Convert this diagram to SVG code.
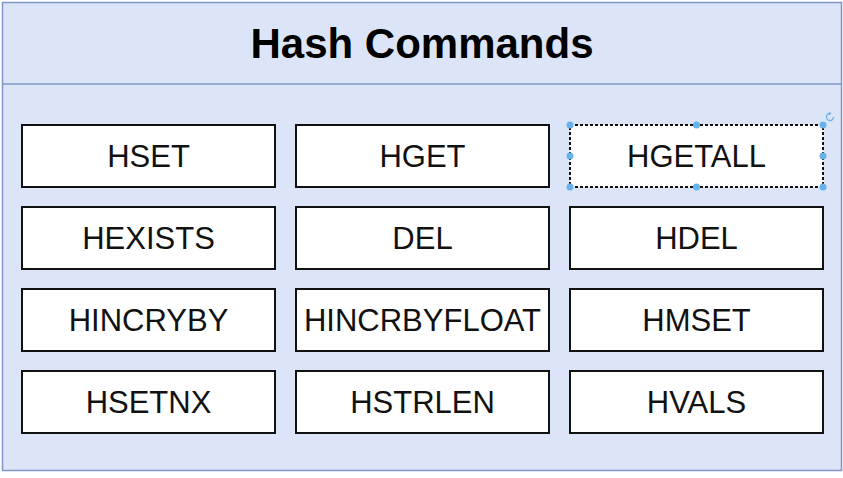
<svg xmlns="http://www.w3.org/2000/svg" width="843" height="478" viewBox="0 0 843 478">
  <style>
    .panel { fill: #dce5f7; stroke: #7f96c6; stroke-width: 1.5; }
    .cmd rect { fill: #ffffff; stroke: #111111; stroke-width: 2; }
    .cmd text { font-family: "Liberation Sans", Arial, sans-serif; font-size: 31px; fill: #111111; text-anchor: middle; }
    .title { font-family: "Liberation Sans", Arial, sans-serif; font-size: 42px; font-weight: bold; fill: #000000; text-anchor: middle; }
    .handle { fill: #66b2ea; }
  </style>
  <rect width="843" height="478" fill="#ffffff"/>

  <!-- container with header strip -->
  <g id="container">
    <rect class="panel" x="2.5" y="2.5" width="839" height="468"/>
    <line x1="2.5" y1="84" x2="841.5" y2="84" stroke="#7f96c6" stroke-width="1.5"/>
    <text class="title" x="422" y="58">Hash Commands</text>
  </g>

  <!-- row 1 -->
  <g id="hset" class="cmd"><rect x="22" y="125" width="253" height="62"/><text x="148.5" y="167">HSET</text></g>
  <g id="hget" class="cmd"><rect x="296" y="125" width="253" height="62"/><text x="422.5" y="167">HGET</text></g>
  <g id="hgetall" class="cmd">
    <rect x="570" y="125" width="253" height="62" style="stroke-dasharray:3 2"/>
    <text x="696.5" y="167">HGETALL</text>
  </g>

  <!-- row 2 -->
  <g id="hexists" class="cmd"><rect x="22" y="207" width="253" height="62"/><text x="148.5" y="249">HEXISTS</text></g>
  <g id="del" class="cmd"><rect x="296" y="207" width="253" height="62"/><text x="422.5" y="249">DEL</text></g>
  <g id="hdel" class="cmd"><rect x="570" y="207" width="253" height="62"/><text x="696.5" y="249">HDEL</text></g>

  <!-- row 3 -->
  <g id="hincryby" class="cmd"><rect x="22" y="289" width="253" height="62"/><text x="148.5" y="331">HINCRYBY</text></g>
  <g id="hincrbyfloat" class="cmd"><rect x="296" y="289" width="253" height="62"/><text x="422.5" y="331">HINCRBYFLOAT</text></g>
  <g id="hmset" class="cmd"><rect x="570" y="289" width="253" height="62"/><text x="696.5" y="331">HMSET</text></g>

  <!-- row 4 -->
  <g id="hsetnx" class="cmd"><rect x="22" y="371" width="253" height="62"/><text x="148.5" y="413">HSETNX</text></g>
  <g id="hstrlen" class="cmd"><rect x="296" y="371" width="253" height="62"/><text x="422.5" y="413">HSTRLEN</text></g>
  <g id="hvals" class="cmd"><rect x="570" y="371" width="253" height="62"/><text x="696.5" y="413">HVALS</text></g>

  <!-- selection handles around HGETALL -->
  <g id="selection">
    <circle class="handle" cx="570" cy="125" r="3.5"/>
    <circle class="handle" cx="696.5" cy="125" r="3.5"/>
    <circle class="handle" cx="823" cy="125" r="3.5"/>
    <circle class="handle" cx="570" cy="156" r="3.5"/>
    <circle class="handle" cx="823" cy="156" r="3.5"/>
    <circle class="handle" cx="570" cy="187" r="3.5"/>
    <circle class="handle" cx="696.5" cy="187" r="3.5"/>
    <circle class="handle" cx="823" cy="187" r="3.5"/>
    <path d="M833.5 117 A3.5 3.5 0 1 1 830 113.5" fill="none" stroke="#66b2ea" stroke-width="1.3"/>
    <path d="M829 111.5 L831.5 113.5 L829 115.5 Z" fill="#66b2ea"/>
  </g>

  <!-- no connectors in this diagram -->
  <g id="connectors"/>
</svg>
